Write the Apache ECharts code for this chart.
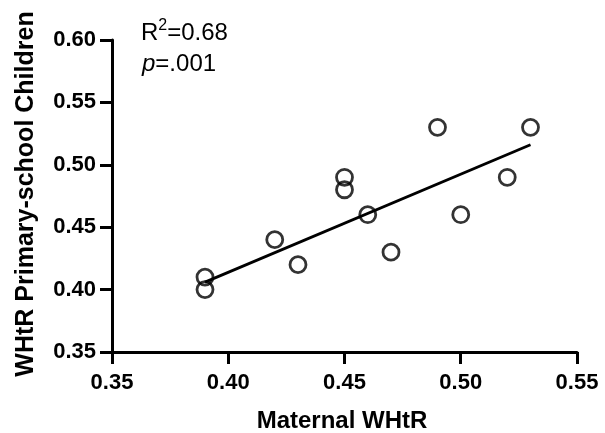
<!DOCTYPE html>
<html>
<head>
<meta charset="utf-8">
<script src="https://cdn.jsdelivr.net/npm/echarts@6/dist/echarts.min.js"></script>
<style>
html,body{margin:0;padding:0;background:#fff;}
#chart{width:605px;height:433px;}
</style>
</head>
<body>
<div id="chart"></div>
<script>
// Data
var maternalWHtR = [0.39, 0.39, 0.42, 0.43, 0.45, 0.45, 0.46, 0.47, 0.49, 0.50, 0.52, 0.53];
var childWHtR    = [0.41, 0.40, 0.44, 0.42, 0.49, 0.48, 0.46, 0.43, 0.53, 0.46, 0.49, 0.53];
var fitX = [0.39, 0.53];
var fitY = [0.406, 0.516];
var xTitle = 'Maternal WHtR';
var yTitle = 'WHtR Primary-school Children';
var r2Text = '0.68';
var pText = '.001';

var points = maternalWHtR.map(function (x, i) { return [x, childWHtR[i]]; });
var fitLine = fitX.map(function (x, i) { return [x, fitY[i]]; });

var FONT = '"Liberation Sans", Arial, Helvetica, sans-serif';
var chart = echarts.init(document.getElementById('chart'), null, {renderer: 'canvas'});

function axisCommon() {
  return {
    type: 'value',
    interval: 0.05,
    axisLine: {show: true, onZero: false, lineStyle: {color: '#000', width: 3}},
    axisTick: {show: true, inside: false, length: 12, lineStyle: {color: '#000', width: 3}},
    splitLine: {show: false},
    axisLabel: {
      color: '#000', fontFamily: FONT, fontWeight: 'bold', fontSize: 22,
      formatter: function (v) { return v.toFixed(2); }
    }
  };
}

var xAxis = axisCommon();
xAxis.min = 0.35; xAxis.max = 0.55;
xAxis.axisLabel.margin = 20;
var yAxis = axisCommon();
yAxis.min = 0.35; yAxis.max = 0.60;
yAxis.axisLabel.margin = 16;

chart.setOption({
  backgroundColor: '#fff',
  animation: false,
  grid: {left: 112, right: 28, top: 40, bottom: 81, containLabel: false},
  xAxis: xAxis,
  yAxis: yAxis,
  series: [
    {
      type: 'scatter',
      data: points,
      symbol: 'circle',
      symbolSize: 16,
      itemStyle: {color: 'rgba(0,0,0,0)', borderColor: '#000', borderWidth: 2.8},
      z: 2
    },
    {
      type: 'line',
      data: fitLine,
      symbol: 'none',
      lineStyle: {color: '#000', width: 2.8},
      z: 3
    }
  ],
  graphic: [
    {
      type: 'text', x: 342, y: 421,
      style: {
        text: xTitle, align: 'center', verticalAlign: 'middle',
        fill: '#000', font: 'bold 24px ' + FONT
      }
    },
    {
      type: 'text', x: 26, y: 194, rotation: Math.PI / 2,
      style: {
        text: yTitle, align: 'center', verticalAlign: 'middle',
        fill: '#000', font: 'bold 25px ' + FONT
      }
    },
    {
      type: 'text', x: 141, y: 18,
      style: {
        text: '{r|R}{s|2}{r|=' + r2Text + '}',
        fill: '#000',
        rich: {
          r: {fontFamily: FONT, fontSize: 24, lineHeight: 27, verticalAlign: 'bottom', fill: '#000'},
          s: {fontFamily: FONT, fontSize: 16, lineHeight: 16, verticalAlign: 'top', fill: '#000'}
        }
      }
    },
    {
      type: 'text', x: 142, y: 51,
      style: {
        text: '{i|p}{r|=' + pText + '}',
        fill: '#000',
        rich: {
          i: {fontFamily: FONT, fontSize: 24, fontStyle: 'italic', lineHeight: 27, fill: '#000'},
          r: {fontFamily: FONT, fontSize: 24, lineHeight: 27, fill: '#000'}
        }
      }
    }
  ]
});
</script>
</body>
</html>
